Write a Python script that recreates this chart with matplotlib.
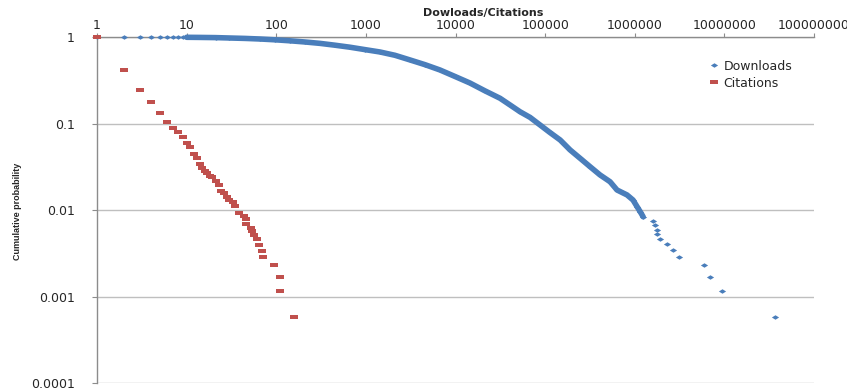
import matplotlib
matplotlib.use("Agg")
import matplotlib.pyplot as plt
from matplotlib.ticker import FixedLocator, FixedFormatter, NullLocator
import numpy as np

# ---------------- data ----------------
x_ticks = [1, 10, 100, 1000, 10000, 100000, 1000000, 10000000, 100000000]
x_tick_labels = ["1", "10", "100", "1000", "10000", "100000", "1000000",
                 "10000000", "100000000"]
y_ticks = [1, 0.1, 0.01, 0.001, 0.0001]
y_tick_labels = ["1", "0.1", "0.01", "0.001", "0.0001"]

downloads_x = [1, 2, 3, 4, 5, 6, 7, 8, 9, 10,
               14, 21, 30, 45, 66, 97, 142, 209, 308, 452, 665, 977,
               1440, 2110, 3110, 4570, 6710, 9870,
               14500, 21300, 31400, 40600, 52500, 67800, 87700,
               113000, 147000, 190000, 245000, 317000, 410000, 530000,
               634000, 721000, 819000, 956000,
               1060000, 1150000, 1240000,
               1590000, 1690000, 1770000, 1790000, 1890000, 2280000,
               2700000, 3080000,
               6000000, 6950000, 9400000, 36900000]
downloads_y = [1.0, 0.9994, 0.9988, 0.9983, 0.9977, 0.9971, 0.9965, 0.996,
               0.9954, 0.992,
               0.989, 0.984, 0.974, 0.963, 0.948, 0.928, 0.904, 0.876, 0.844,
               0.804, 0.762, 0.715,
               0.671, 0.615, 0.543, 0.479, 0.416, 0.350,
               0.294, 0.239, 0.196, 0.164, 0.137, 0.118, 0.0964,
               0.0789, 0.0647, 0.0496, 0.0398, 0.0318, 0.0255, 0.0213,
               0.0171, 0.0160, 0.0150, 0.0131,
               0.0110, 0.0096, 0.0084,
               0.0075, 0.0068, 0.0059, 0.0053, 0.0047, 0.0041, 0.0035, 0.0029,
               0.0023, 0.0017, 0.00116, 0.00058]

citations_x = [1, 2, 3, 4, 5, 6, 7, 8, 9, 10, 11, 12, 13, 14, 15, 16, 17, 18,
               19, 21, 23, 24, 26, 28, 30, 33, 35, 38,
               44, 46, 46, 52, 54, 57, 61, 65, 70, 71,
               94, 111, 111, 157]
citations_y = [1.0, 0.42, 0.246, 0.178, 0.133, 0.105, 0.090, 0.080, 0.070,
               0.060, 0.054, 0.0446, 0.040, 0.0343, 0.031, 0.028, 0.027,
               0.025, 0.024,
               0.0215, 0.0194, 0.0168, 0.0157, 0.0143, 0.0131, 0.0123,
               0.0112, 0.0092,
               0.0086, 0.0080, 0.0069, 0.0063, 0.0058, 0.0052, 0.0046,
               0.0040, 0.0034, 0.0029,
               0.0023, 0.0017, 0.00116, 0.00058]

series_labels = ["Downloads", "Citations"]
x_title = "Dowloads/Citations"
y_title = "Cumulative probability"

# ---------------- style ----------------
W, H = 847, 389
BLUE = "#4A7EBB"
RED = "#C0504D"
GRID = "#BFBFBF"
SPINE = "#8C8C8C"
TXT = "#262626"

diamond = [(-1, 0), (0, 0.62), (1, 0), (0, -0.62), (-1, 0)]
rect = [(-1, -0.62), (1, -0.62), (1, 0.62), (-1, 0.62), (-1, -0.62)]

fig = plt.figure(figsize=(W / 100, H / 100), dpi=100)
left, right, top, bottom = 97, 814, 37, 383.3
ax = fig.add_axes([left / W, 1 - bottom / H, (right - left) / W, (bottom - top) / H])

ax.set_xscale("log")
ax.set_yscale("log")
ax.set_xlim(1, 1e8)
ax.set_ylim(1e-4, 1)

dx = np.array(downloads_x, dtype=float)
dy = np.array(downloads_y, dtype=float)
dense = (dx >= 10) & (dx <= 1.3e6)

ax.plot(dx[dense], dy[dense], "-", color=BLUE, lw=4.0, solid_capstyle="round",
        zorder=3, clip_on=False)
ax.plot(dx, dy, linestyle="none", marker=diamond, ms=5.2, color=BLUE,
        mec=BLUE, mew=0, label=series_labels[0], zorder=4, clip_on=False)
ax.plot(citations_x, citations_y, linestyle="none", marker=rect, ms=5.6,
        color=RED, mec=RED, mew=0, label=series_labels[1], zorder=5,
        clip_on=False)

# axes / ticks
ax.xaxis.tick_top()
ax.xaxis.set_major_locator(FixedLocator(x_ticks))
ax.xaxis.set_major_formatter(FixedFormatter(x_tick_labels))
ax.xaxis.set_minor_locator(NullLocator())
ax.yaxis.set_major_locator(FixedLocator(y_ticks))
ax.yaxis.set_major_formatter(FixedFormatter(y_tick_labels))
ax.yaxis.set_minor_locator(NullLocator())

ax.tick_params(axis="x", which="major", direction="out", length=2.7, width=0.8,
               color=SPINE, pad=1.2, labelsize=9, labelcolor=TXT)
ax.tick_params(axis="y", which="major", direction="out", length=3.5, width=0.8,
               color=SPINE, pad=12.5, labelsize=9, labelcolor=TXT)

for s in ["right", "bottom"]:
    ax.spines[s].set_visible(False)
for s in ["top", "left"]:
    ax.spines[s].set_color(SPINE)
    ax.spines[s].set_linewidth(1.0)

ax.grid(True, axis="y", which="major", color=GRID, lw=1.0)
ax.set_axisbelow(True)
ax.set_facecolor("white")

fig.text(483.5 / W, 1 - 13.0 / H, x_title, ha="center", va="center",
         fontsize=8, fontweight="bold", color=TXT)
fig.text(17 / W, 1 - 211 / H, y_title, rotation=90, ha="center", va="center",
         fontsize=6.5, fontweight="bold", color=TXT,
         family=["Liberation Sans", "DejaVu Sans"])

leg = ax.legend(loc="upper left", bbox_to_anchor=(708 / W, 1 - 59.5 / H),
                bbox_transform=fig.transFigure, frameon=False, fontsize=9,
                handlelength=0.9, handletextpad=0.35, labelspacing=0.33,
                borderaxespad=0, borderpad=0, markerscale=1.0)
for t in leg.get_texts():
    t.set_color(TXT)

fig.savefig("out.png", dpi=100)
